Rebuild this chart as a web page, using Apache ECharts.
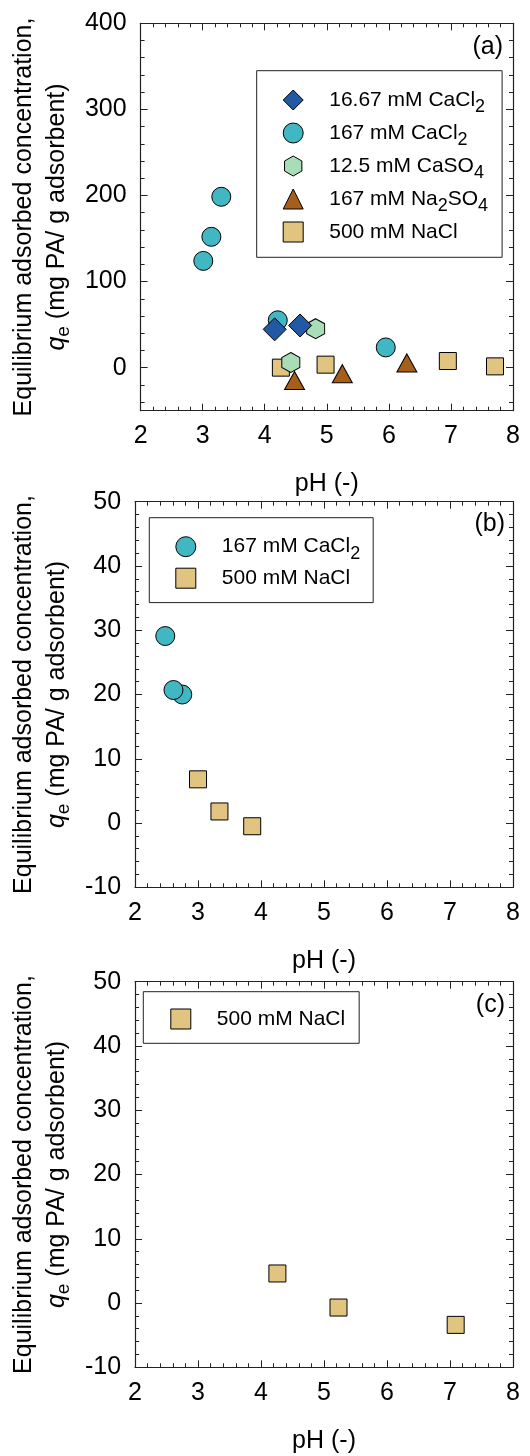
<!DOCTYPE html>
<html><head><meta charset="utf-8">
<script src="https://cdn.jsdelivr.net/npm/echarts@6/dist/echarts.min.js"></script>
<style>html,body{margin:0;padding:0;background:#fff}#c{width:530px;height:1456px}</style>
</head><body><div id="c"></div>
<script>
const FONT = '"Liberation Sans", Arial, Helvetica, sans-serif';

const seriesNames = ['16.67 mM CaCl2', '167 mM CaCl2', '12.5 mM CaSO4', '167 mM Na2SO4', '500 mM NaCl'];

// Panel (a): [pH, qe]
const aCaCl2_16 = [[4.16, 44.5], [4.57, 49.0]];
const aCaCl2_167 = [[3.01, 124], [3.14, 152], [3.30, 198.5], [4.21, 55], [5.95, 23.5]];
const aCaSO4 = [[4.82, 45.3], [4.42, 6.0]];
const aNa2SO4 = [[4.48, -15], [5.25, -7], [6.29, 5.5]];
const aNaCl = [[4.26, 0.0], [4.98, 3.5], [6.95, 7.7], [7.71, 1.5]];
// Panel (b)
const bCaCl2_167 = [[2.48, 29.1], [2.75, 20.0], [2.61, 20.7]];
const bNaCl = [[3.00, 6.8], [3.34, 1.8], [3.86, -0.5]];
// Panel (c)
const cNaCl = [[4.26, 4.6], [5.23, -0.7], [7.09, -3.4]];

const yTicksA = [0, 100, 200, 300, 400];
const yMinorA = [-40, -20, 20, 40, 60, 80, 120, 140, 160, 180, 220, 240, 260, 280, 320, 340, 360, 380];
const panelLabels = ['(a)', '(b)', '(c)'];

const HEX = 'path://M50,0 L93.3,25 L93.3,75 L50,100 L6.7,75 L6.7,25 Z';
const styles = {
  '16.67 mM CaCl2': { symbol: 'diamond', size: [23, 23], color: '#2159A5', z: 6 },
  '167 mM CaCl2': { symbol: 'circle', size: 19, color: '#42B7C4', z: 3 },
  '12.5 mM CaSO4': { symbol: HEX, size: [18, 20], color: '#A8DDB8', z: 5 },
  '167 mM Na2SO4': { symbol: 'triangle', size: [20, 18], color: '#A65F1A', z: 4 },
  '500 mM NaCl': { symbol: 'rect', size: 17, color: '#E0C47F', z: 2 }
};

const grids = [
  { left: 132, top: 23.3, width: 381, height: 387.4 },
  { left: 132, top: 501.7, width: 381, height: 385.6 },
  { left: 132, top: 981.7, width: 381, height: 385.6 }
];

const AX = '#222';
const lineS = { show: true, onZero: false, lineStyle: { color: AX, width: 1.2 } };
const txt = { fontFamily: FONT, color: '#000' };

function xAxes(g) {
  const base = { type: 'value', gridIndex: g, min: 2, max: 8, interval: 1, splitLine: { show: false },
    axisLine: lineS, axisTick: { inside: true, length: 7, lineStyle: { color: AX } },
    minorTick: { show: true, splitNumber: 5, length: 4, lineStyle: { color: AX } } };
  return [
    Object.assign({}, base, { position: 'bottom', name: 'pH (-)', nameLocation: 'middle', nameGap: 61,
      nameTextStyle: Object.assign({ fontSize: 25 }, txt),
      axisLabel: Object.assign({ fontSize: 25, margin: 13 }, txt) }),
    Object.assign({}, base, { position: 'top', axisLabel: { show: false } })
  ];
}

const yName = 'Equilibrium adsorbed concentration,\n{q|q}{e|e} (mg PA/ g adsorbent)';
const yNameStyle = Object.assign({ fontSize: 25, lineHeight: 33, rich: {
  q: { fontStyle: 'italic', fontSize: 25, lineHeight: 33, fontFamily: FONT, color: '#000' },
  e: { fontSize: 19, lineHeight: 33, padding: [12, 0, 0, 0], fontFamily: FONT, color: '#000' }
} }, txt);

function yAxesBC(g) {
  const base = { type: 'value', gridIndex: g, min: -10, max: 50, interval: 10, splitLine: { show: false },
    axisLine: lineS, axisTick: { inside: true, length: 7, lineStyle: { color: AX } },
    minorTick: { show: true, splitNumber: 5, length: 4, lineStyle: { color: AX } } };
  return [
    Object.assign({}, base, { position: 'left', name: yName, nameLocation: 'middle', nameRotate: 90, nameGap: 60,
      nameTextStyle: yNameStyle, axisLabel: Object.assign({ fontSize: 25, margin: 14 }, txt) }),
    Object.assign({}, base, { position: 'right', axisLabel: { show: false } })
  ];
}

function yAxesA() {
  const base = { type: 'value', gridIndex: 0, min: -50, max: 400, splitLine: { show: false } };
  return [
    Object.assign({}, base, { position: 'left', axisLine: lineS, name: yName, nameLocation: 'middle', nameRotate: 90, nameGap: 60,
      nameTextStyle: yNameStyle,
      axisTick: { inside: true, length: 7, customValues: yTicksA, lineStyle: { color: AX } },
      axisLabel: Object.assign({ fontSize: 25, margin: 14, customValues: yTicksA }, txt) }),
    Object.assign({}, base, { position: 'right', axisLine: lineS,
      axisTick: { inside: true, length: 7, customValues: yTicksA, lineStyle: { color: AX } },
      axisLabel: { show: false } }),
    Object.assign({}, base, { position: 'left', axisLine: { show: false },
      axisTick: { inside: true, length: 4, customValues: yMinorA, lineStyle: { color: AX } },
      axisLabel: { show: false } }),
    Object.assign({}, base, { position: 'right', axisLine: { show: false },
      axisTick: { inside: true, length: 4, customValues: yMinorA, lineStyle: { color: AX } },
      axisLabel: { show: false } })
  ];
}

function mkSeries(name, data, xi, yi) {
  const s = styles[name];
  return { type: 'scatter', name: name, data: data, xAxisIndex: xi, yAxisIndex: yi,
    symbol: s.symbol, symbolSize: s.size, z: s.z,
    itemStyle: { color: s.color, borderColor: '#000', borderWidth: 1, opacity: 1 },
    emphasis: { disabled: true } };
}

function legendFmt(name) {
  return ('{t|' + name.replace(/([A-Za-z])(\d+)/g, '$1}{s|$2}{t|') + '}').replace(/\{t\|\}/g, '');
}
function mkLegend(names, left, top, padding, gap) {
  return { data: names, orient: 'vertical', left: left, top: top, padding: padding, itemGap: gap,
    itemWidth: 20, itemHeight: 20, selectedMode: false, backgroundColor: '#fff',
    borderColor: '#222', borderWidth: 1, borderRadius: 0,
    itemStyle: { borderColor: '#000', borderWidth: 1 },
    formatter: legendFmt,
    textStyle: { fontSize: 21, lineHeight: 33, fontFamily: FONT, color: '#000', padding: [0, 0, 0, 21],
      rich: {
        t: { fontSize: 21, lineHeight: 33, fontFamily: FONT, color: '#000' },
        s: { fontSize: 18, lineHeight: 33, padding: [15, 0, 0, 0], fontFamily: FONT, color: '#000' }
      } } };
}

const labelPos = [[503, 47], [505, 524], [505, 1005]];

const option = {
  animation: false,
  backgroundColor: '#fff',
  grid: grids,
  xAxis: [].concat(xAxes(0), xAxes(1), xAxes(2)),
  yAxis: [].concat(yAxesA(), yAxesBC(1), yAxesBC(2)),
  legend: [
    mkLegend(seriesNames, 256.7, 70.7, [12.8, 14, 8.8, 26], 0),
    mkLegend(['167 mM CaCl2', '500 mM NaCl'], 149.3, 517.7, [12.5, 13, 7.9, 26], -1.5),
    mkLegend(['500 mM NaCl'], 143.3, 991.7, [10.8, 14, 7.8, 27], 0)
  ],
  series: [
    mkSeries('16.67 mM CaCl2', aCaCl2_16, 0, 0),
    mkSeries('167 mM CaCl2', aCaCl2_167, 0, 0),
    mkSeries('12.5 mM CaSO4', aCaSO4, 0, 0),
    mkSeries('167 mM Na2SO4', aNa2SO4, 0, 0),
    mkSeries('500 mM NaCl', aNaCl, 0, 0),
    mkSeries('167 mM CaCl2', bCaCl2_167, 2, 4),
    mkSeries('500 mM NaCl', bNaCl, 2, 4),
    mkSeries('500 mM NaCl', cNaCl, 4, 6)
  ],
  graphic: panelLabels.map(function (t, i) {
    return { type: 'text', x: labelPos[i][0], y: labelPos[i][1], z: 10,
      style: { text: t, fontSize: 25, fontFamily: FONT, fill: '#000', align: 'right', verticalAlign: 'middle' } };
  })
};

const chart = echarts.init(document.getElementById('c'), null, { renderer: 'canvas' });
chart.setOption(option);
</script>
</body></html>
